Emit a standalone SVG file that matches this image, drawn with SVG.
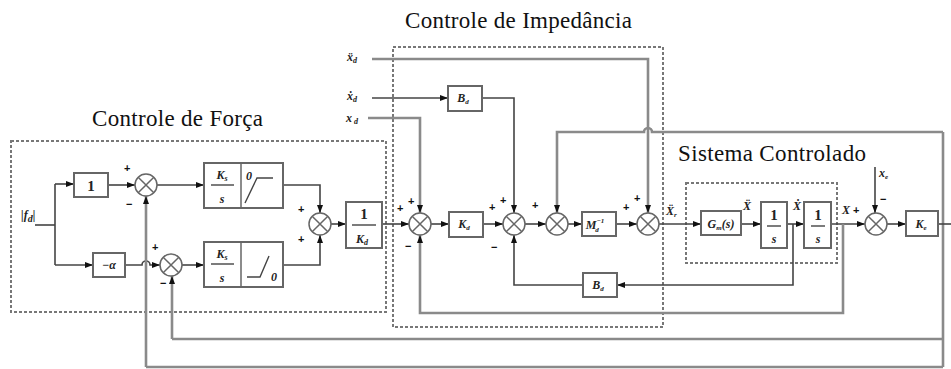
<svg xmlns="http://www.w3.org/2000/svg" xmlns:xlink="http://www.w3.org/1999/xlink" width="951" height="369" viewBox="0 0 951 369">
<style>
.ln{fill:none;stroke:#444;stroke-width:1.6}
.gl{fill:none;stroke:#8a8a8a;stroke-width:2.6}
.blk{fill:#fff;stroke:#666;stroke-width:2}
.sj{fill:#fff;stroke:#666;stroke-width:1.5}
.dash{fill:none;stroke:#777;stroke-width:2;stroke-dasharray:3 2}
.title{font-family:"Liberation Serif",serif;font-size:23px;fill:#111}
.lb{font-family:"Liberation Serif",serif;font-style:italic;font-weight:bold;font-size:12px;fill:#222}
.nm{font-family:"Liberation Serif",serif;font-weight:bold;font-size:15px;fill:#222}
.sg{font-family:"Liberation Sans",sans-serif;font-weight:bold;font-size:11px;fill:#111}
.fr{stroke:#444;stroke-width:1.4}
</style>
<defs>
<marker id="ah" viewBox="0 0 8 6" refX="8" refY="3" markerWidth="8" markerHeight="6" markerUnits="userSpaceOnUse" orient="auto"><path d="M0,0L8,3L0,6z" fill="#111"/></marker>
<g id="sum"><circle r="11"/><path d="M-7.8,-7.8L7.8,7.8M-7.8,7.8L7.8,-7.8"/></g>
</defs>
<rect width="951" height="369" fill="#fff"/>

<!-- dashed group boxes -->
<g id="boxes">
<rect class="dash" x="11" y="141" width="375" height="171"/>
<rect class="dash" x="393" y="47" width="270" height="280"/>
<rect class="dash" x="686" y="183" width="151" height="80"/>
</g>

<!-- titles -->
<text class="title" x="92" y="126" textLength="171">Controle de Força</text>
<text class="title" x="405" y="28" textLength="227">Controle de Impedância</text>
<text class="title" x="678" y="161" textLength="188">Sistema Controlado</text>

<!-- connectors -->
<g id="connectors" marker-end="url(#ah)">
<path class="ln" d="M35,225H55" marker-end="none"/>
<path class="ln" d="M55,184V265" marker-end="none"/>
<path class="ln" d="M55,184H74"/>
<path class="ln" d="M108,185H135"/>
<path class="ln" d="M55,265H93"/>
<path class="ln" d="M125,265H142a4,4 0 0 1 8,0H160"/>
<path class="ln" d="M157,185H204"/>
<path class="ln" d="M182,265H204"/>
<path class="ln" d="M283,185H320V213"/>
<path class="ln" d="M283,265H320V235"/>
<path class="ln" d="M331,224H346"/>
<path class="ln" d="M382,224H409"/>
<path class="gl" d="M146,367V196" stroke-width="1.8"/>
<path class="gl" d="M172,339V276"/>
<path class="gl" d="M943,367H146" stroke-width="1.8" marker-end="none"/>
<path class="gl" d="M943,339H172" marker-end="none"/>
<path class="gl" d="M943,132V367" marker-end="none"/>
<!-- impedance -->
<path class="gl" d="M372,59H648V213"/>
<path class="ln" d="M372,98H448"/>
<path class="ln" d="M482,98H514V213"/>
<path class="gl" d="M368,118H420V213" stroke-width="2"/>
<path class="ln" d="M431,224H449"/>
<path class="ln" d="M483,224H503"/>
<path class="ln" d="M525,224H546"/>
<path class="ln" d="M568,224H582"/>
<path class="ln" d="M616,224H637"/>
<path class="ln" d="M659,224H701"/>
<path class="ln" d="M741,224H761"/>
<path class="ln" d="M787,224H804"/>
<path class="ln" d="M831,224H865"/>
<path class="ln" d="M875,167V213"/>
<path class="ln" d="M887,224H906"/>
<path class="ln" d="M938,224H951" marker-end="none"/>
<path class="ln" d="M793,224V285H617"/>
<path class="ln" d="M583,285H514V235"/>
<path class="gl" d="M843,224V313H420V235"/>
<path class="gl" d="M943,132H652a4,4 0 0 0 -8,0H557V213"/>
</g>

<!-- force control nodes -->
<g id="fd"><text class="lb" x="21" y="219" font-size="17">|<tspan>f</tspan><tspan font-size="10" dy="3">d</tspan><tspan dy="-3">|</tspan></text></g>
<g id="gain1"><rect class="blk" x="74" y="173" width="34" height="24"/><text class="nm" x="91" y="191" text-anchor="middle" font-size="14">1</text></g>
<g id="alpha"><rect class="blk" x="93" y="253" width="32" height="24"/><text class="lb" x="109" y="269" text-anchor="middle">−α</text></g>
<g id="sum1" class="sj"><use xlink:href="#sum" x="146" y="185"/></g>
<text class="sg" x="124" y="172">+</text><text class="sg" x="126" y="208" font-size="14">−</text>
<g id="sum2" class="sj"><use xlink:href="#sum" x="171" y="265"/></g>
<text class="sg" x="152" y="251">+</text><text class="sg" x="160" y="287" font-size="14">−</text>
<g id="sat1"><rect class="blk" x="204" y="163" width="79" height="45"/><line x1="241" y1="163" x2="241" y2="208" stroke="#666" stroke-width="1.5"/>
<text class="lb" x="222" y="179" text-anchor="middle" font-size="13">K<tspan font-size="8" dy="2">s</tspan></text><line class="fr" x1="211" y1="185" x2="234" y2="185"/><text class="lb" x="222" y="203" text-anchor="middle" font-size="13">s</text>
<text class="lb" x="246" y="180" font-size="11" font-style="normal">0</text><path d="M245,203L257,178H273" fill="none" stroke="#444" stroke-width="1.4"/></g>
<g id="sat2"><rect class="blk" x="204" y="242" width="79" height="45"/><line x1="241" y1="242" x2="241" y2="287" stroke="#666" stroke-width="1.5"/>
<text class="lb" x="222" y="258" text-anchor="middle" font-size="13">K<tspan font-size="8" dy="2">s</tspan></text><line class="fr" x1="211" y1="264" x2="234" y2="264"/><text class="lb" x="222" y="282" text-anchor="middle" font-size="13">s</text>
<path d="M247,277H260L269,256" fill="none" stroke="#444" stroke-width="1.4"/><text class="lb" x="271" y="281" font-size="11" font-style="normal">0</text></g>
<g id="sum3" class="sj"><use xlink:href="#sum" x="320" y="224"/></g>
<text class="sg" x="298" y="213">+</text><text class="sg" x="298" y="243">+</text>
<g id="invKd"><rect class="blk" x="346" y="202" width="36" height="46"/><text class="nm" x="364" y="219" text-anchor="middle">1</text><line class="fr" x1="352" y1="225" x2="376" y2="225"/><text class="lb" x="362" y="243" text-anchor="middle" font-size="13">K<tspan font-size="8" dy="2">d</tspan></text></g>

<!-- impedance nodes -->
<g id="xdd"><text class="lb" x="347" y="61" font-size="14">ẍ<tspan font-size="8" dy="2">d</tspan></text></g>
<g id="xd1"><text class="lb" x="347" y="100" font-size="14">ẋ<tspan font-size="8" dy="2">d</tspan></text></g>
<g id="xd0"><text class="lb" x="346" y="122" font-size="14">x<tspan font-size="8" dy="2"> d</tspan></text></g>
<g id="Bd1"><rect class="blk" x="448" y="86" width="34" height="25"/><text class="lb" x="463" y="102" text-anchor="middle">B<tspan font-size="7" dy="2">d</tspan></text></g>
<g id="sum4" class="sj"><use xlink:href="#sum" x="420" y="224"/></g>
<text class="sg" x="397" y="212">+</text><text class="sg" x="408" y="205">+</text><text class="sg" x="405" y="250" font-size="14">−</text>
<g id="Kd"><rect class="blk" x="449" y="212" width="34" height="25"/><text class="lb" x="464" y="228" text-anchor="middle">K<tspan font-size="7" dy="2">d</tspan></text></g>
<g id="sum5" class="sj"><use xlink:href="#sum" x="514" y="224"/></g>
<text class="sg" x="489" y="211">+</text><text class="sg" x="500" y="204">+</text><text class="sg" x="491" y="251" font-size="14">−</text>
<g id="sum6" class="sj"><use xlink:href="#sum" x="557" y="224"/></g>
<text class="sg" x="532" y="209">+</text>
<g id="Md"><rect class="blk" x="582" y="212" width="34" height="24"/><text class="lb" x="595" y="229" text-anchor="middle" font-size="13">M<tspan font-size="7" dy="-6">−1</tspan><tspan font-size="7" dx="-9" dy="9">d</tspan></text></g>
<g id="sum7" class="sj"><use xlink:href="#sum" x="648" y="224"/></g>
<text class="sg" x="623" y="211">+</text><text class="sg" x="634" y="202">+</text>
<g id="Bd2"><rect class="blk" x="583" y="273" width="34" height="24"/><text class="lb" x="598" y="289" text-anchor="middle">B<tspan font-size="7" dy="2">d</tspan></text></g>

<!-- controlled system -->
<text class="lb" x="666" y="215">Ẍ<tspan font-size="7" dy="2">r</tspan></text>
<g id="G"><rect class="blk" x="701" y="211" width="40" height="24"/><text class="lb" x="721" y="228" text-anchor="middle" font-size="11">G<tspan font-size="7" dy="2">m</tspan><tspan dy="-2">(s)</tspan></text></g>
<text class="lb" x="743" y="210">Ẍ</text>
<g id="int1"><rect class="blk" x="761" y="202" width="26" height="46"/><text class="nm" x="774" y="220" text-anchor="middle">1</text><line class="fr" x1="767" y1="226" x2="781" y2="226"/><text class="lb" x="774" y="243" text-anchor="middle" font-size="13">s</text></g>
<text class="lb" x="793" y="210">Ẋ</text>
<g id="int2"><rect class="blk" x="804" y="202" width="27" height="46"/><text class="nm" x="818" y="220" text-anchor="middle">1</text><line class="fr" x1="811" y1="226" x2="825" y2="226"/><text class="lb" x="818" y="243" text-anchor="middle" font-size="13">s</text></g>
<text class="lb" x="842" y="214">X</text><text class="sg" x="853" y="214">+</text>
<g id="xe"><text class="lb" x="879" y="177">x<tspan font-size="7" dy="2">e</tspan></text></g>
<text class="sg" x="880" y="203" font-size="14">−</text>
<g id="sum8" class="sj"><use xlink:href="#sum" x="876" y="224"/></g>
<g id="Ke"><rect class="blk" x="906" y="211" width="32" height="25"/><text class="lb" x="921" y="228" text-anchor="middle">K<tspan font-size="7" dy="2">e</tspan></text></g>
</svg>
